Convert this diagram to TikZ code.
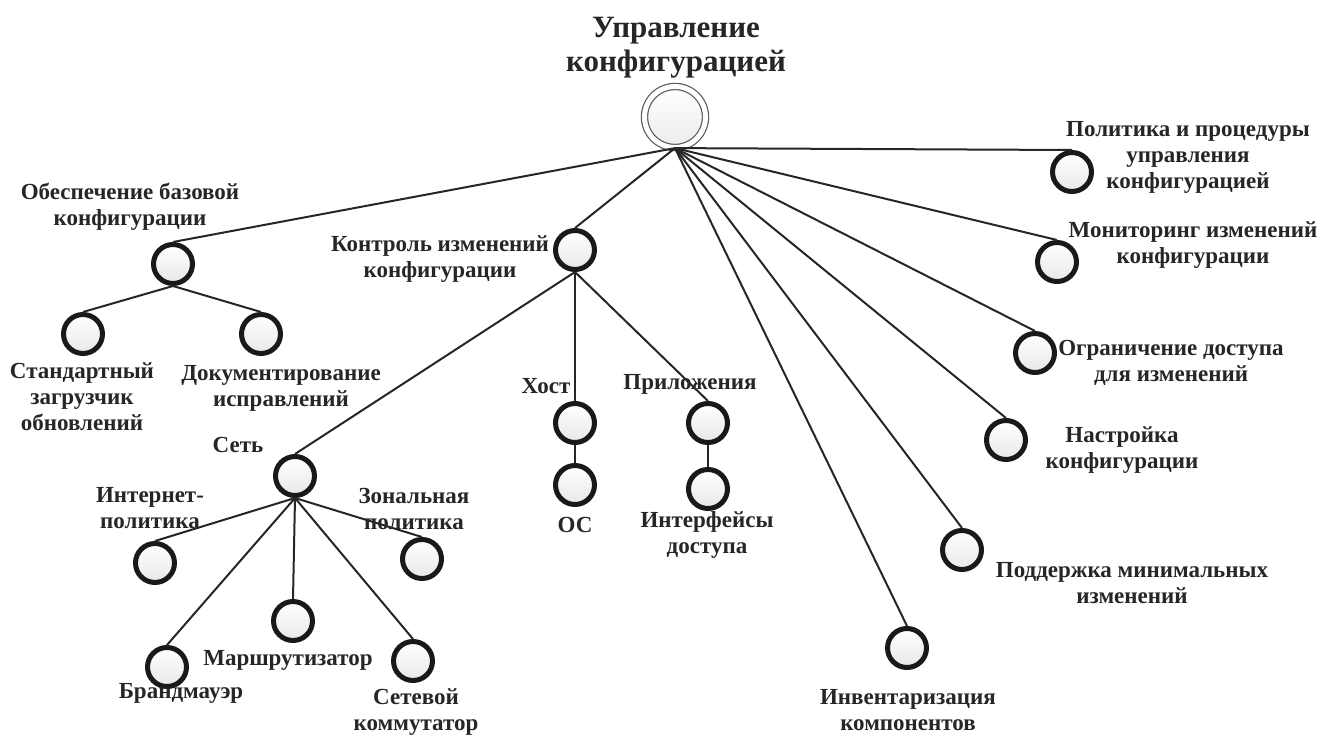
\documentclass[tikz,border=0pt]{standalone}
\usepackage{fontspec}
\setmainfont{Liberation Serif}
\usepackage{tikz}
\tikzset{
  leaf/.style={circle, draw=black!90, line width=5pt, minimum size=39pt, inner sep=0pt, top color=white, bottom color=gray!18},
  rootnode/.style={circle, draw=black!65, line width=1.2pt, double=white, double distance=5pt, minimum size=61pt, inner sep=0pt, top color=white, bottom color=gray!15},
  lbl/.style={align=center, inner sep=0pt, text=black!85, font=\fontsize{23}{26}\selectfont\bfseries},
  link/.style={line width=2pt, black!85}
}

\begin{document}
\begin{tikzpicture}[x=1pt, y=-1pt]
\useasboundingbox (0,0) rectangle (1322,736);
% circles
\node[rootnode] (root) at (675,117) {};
\node[leaf] (base) at (173,264) {};
\node[leaf] (boot) at (83,334) {};
\node[leaf] (docs) at (261,334) {};
\node[leaf] (ctrl) at (575,250) {};
\node[leaf] (net) at (295,476) {};
\node[leaf] (inet) at (155,563) {};
\node[leaf] (zone) at (422,559) {};
\node[leaf] (fw) at (167,667) {};
\node[leaf] (rtr) at (293,621) {};
\node[leaf] (sw) at (413,661) {};
\node[leaf] (host) at (575,423) {};
\node[leaf] (os) at (575,485) {};
\node[leaf] (apps) at (708,423) {};
\node[leaf] (api) at (708,489) {};
\node[leaf] (pol) at (1072,172) {};
\node[leaf] (mon) at (1057,262) {};
\node[leaf] (acc) at (1035,353) {};
\node[leaf] (tune) at (1006,440) {};
\node[leaf] (mini) at (962,550) {};
\node[leaf] (inv) at (907,648) {};
% labels
\node[lbl, font=\fontsize{31}{34}\selectfont\bfseries] (t-root) at (676,48) {Управление\\конфигурацией};
\node[lbl] (t-base) at (130,207) {Обеспечение базовой\\конфигурации};
\node[lbl] (t-boot) at (82,397) {Стандартный\\загрузчик\\обновлений};
\node[lbl] (t-docs) at (281,388) {Документирование\\исправлений};
\node[lbl] (t-ctrl) at (440,259) {Контроль изменений\\конфигурации};
\node[lbl] (t-net) at (238,445) {Сеть};
\node[lbl] (t-inet) at (150,508) {Интернет-\\политика};
\node[lbl] (t-zone) at (414,509) {Зональная\\политика};
\node[lbl] (t-fw) at (181,693) {Брандмауэр};
\node[lbl] (t-rtr) at (288,660) {Маршрутизатор};
\node[lbl] (t-sw) at (416,712) {Сетевой\\коммутатор};
\node[lbl] (t-host) at (546,386) {Хост};
\node[lbl] (t-os) at (575,525) {ОС};
\node[lbl] (t-apps) at (690,384) {Приложения};
\node[lbl] (t-api) at (707,535) {Интерфейсы\\доступа};
\node[lbl] (t-pol) at (1188,157) {Политика и процедуры\\управления\\конфигурацией};
\node[lbl] (t-mon) at (1193,245) {Мониторинг изменений\\конфигурации};
\node[lbl] (t-acc) at (1171,363) {Ограничение доступа\\для изменений};
\node[lbl] (t-tune) at (1122,450) {Настройка\\конфигурации};
\node[lbl] (t-mini) at (1132,583) {Поддержка минимальных\\изменений};
\node[lbl] (t-inv) at (908,710) {Инвентаризация\\компонентов};
% links
\foreach \c in {base,ctrl,pol,mon,acc,tune,mini,inv}
  \draw[link] (root.south) -- (\c.north);
\foreach \c in {boot,docs}
  \draw[link] (base.south) -- (\c.north);
\foreach \c in {net,host,apps}
  \draw[link] (ctrl.south) -- (\c.north);
\foreach \c in {inet,zone,fw,rtr,sw}
  \draw[link] (net.south) -- (\c.north);
\draw[link] (host.south) -- (os.north);
\draw[link] (apps.south) -- (api.north);
\end{tikzpicture}
\end{document}
